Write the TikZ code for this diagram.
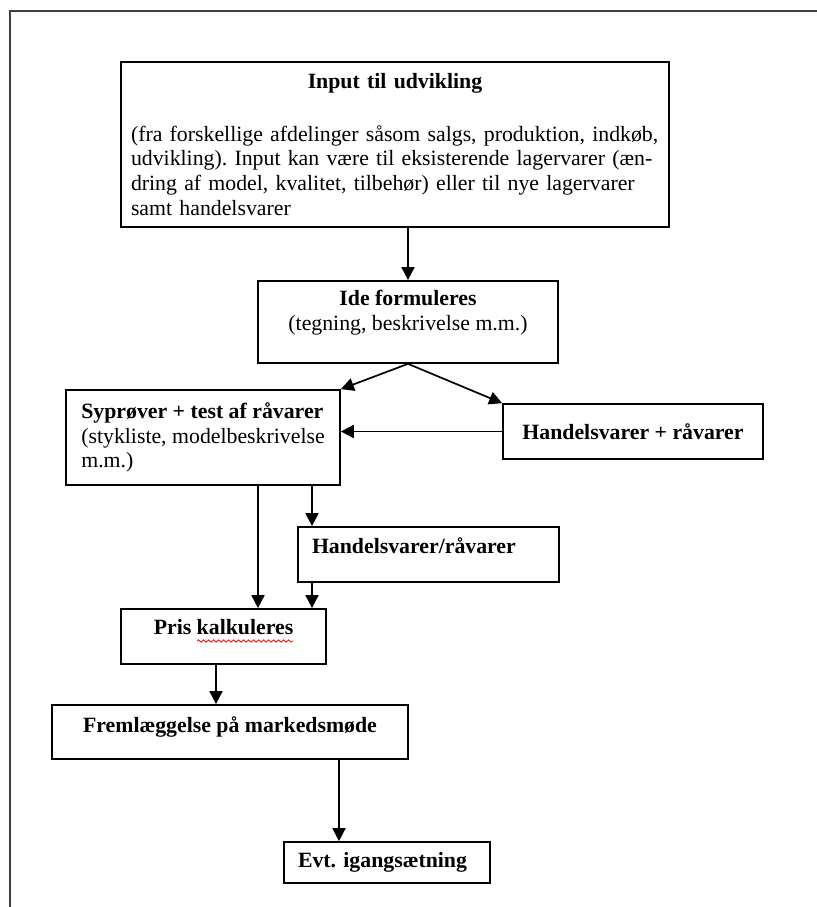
\documentclass[tikz,border=0pt]{standalone}
\usepackage{fontspec}
\setmainfont{Liberation Serif}
\usetikzlibrary{arrows.meta,decorations.pathmorphing}

\newcommand{\lowpad}[1]{\rule[-#1]{0pt}{#1}}

\begin{document}
\frenchspacing
\begin{tikzpicture}[x=0.5pt, y=-0.5pt,
    box/.style={draw, line width=0.85pt, inner sep=0pt, font=\fontsize{10.9}{12.3}\selectfont},
    arr/.style={-{Triangle[length=6.5pt,width=6.5pt]}, line width=0.85pt}]
	\useasboundingbox (0,0) rectangle (817,907);
	\draw[black!75, line width=1pt] (817,11) -| (10,907);
	
	\node[box, minimum width=274pt, minimum height=82.5pt, text width=264pt, align=left] (inp) at (395,144.5)
	  {{\centering\bfseries Input til udvikling\par}\vspace{14pt}
	   (fra forskellige afdelinger såsom salgs, produktion, indkøb,\\
	   udvikling). Input kan være til eksisterende lagervarer (æn-\\
	   dring af model, kvalitet, tilbehør) eller til nye lagervarer\\
	   samt handelsvarer};
	\node[box, minimum width=150pt, minimum height=41pt, align=center] (ide) at (408,322)
	  {\textbf{Ide formuleres}\\(tegning, beskrivelse m.m.)\lowpad{11.5pt}};
	\node[box, minimum width=137pt, minimum height=47.5pt, align=left] (syp) at (203,437.5)
	  {\textbf{Syprøver + test af råvarer}\\(stykliste, modelbeskrivelse\\m.m.)};
	\node[box, minimum width=130pt, minimum height=27.5pt, align=center] (hr) at (633,431.5)
	  {\textbf{Handelsvarer + råvarer}};
	\node[box, minimum width=130.5pt, minimum height=27.5pt, text width=116.5pt, align=left] (hrr) at (428.5,554.5)
	  {\textbf{Handelsvarer/råvarer}\lowpad{8.5pt}};
	\node[box, minimum width=102.5pt, minimum height=27.5pt, align=center] (pris) at (223.5,636.5)
	  {\textbf{Pris kalkuleres}\lowpad{9.5pt}};
	\node[box, minimum width=178pt, minimum height=27pt, align=center] (frem) at (230,732)
	  {\textbf{Fremlæggelse på markedsmøde}\lowpad{7.5pt}};
	\node[box, minimum width=103pt, minimum height=20.5pt, text width=89pt, align=left] (evt) at (387,862.5)
	  {\textbf{Evt. igangsætning}};
	
	% spelling mark under the word
	\draw[red, line width=0.4pt, decorate, decoration={snake, amplitude=0.6pt, segment length=2.5pt}] (197,641) -- (293,641);
	
	\coordinate (colA) at (258,0);
	\coordinate (colB) at (312,0);
	\coordinate (colC) at (216,0);
	\coordinate (colD) at (339,0);
	
	\draw[arr] (ide.north |- inp.south) -- (ide.north);
	\draw[arr] (ide.south) -- (syp.north east);
	\draw[arr] (ide.south) -- (hr.north west);
	\draw[arr] (hr.west) -- (syp.east |- hr.west);
	\draw[arr] (syp.south -| colA) -- (pris.north -| colA);
	\draw[arr] (syp.south -| colB) -- (hrr.north -| colB);
	\draw[arr] (hrr.south -| colB) -- (pris.north -| colB);
	\draw[arr] (pris.south -| colC) -- (frem.north -| colC);
	\draw[arr] (frem.south -| colD) -- (evt.north -| colD);
\end{tikzpicture}
\end{document}
